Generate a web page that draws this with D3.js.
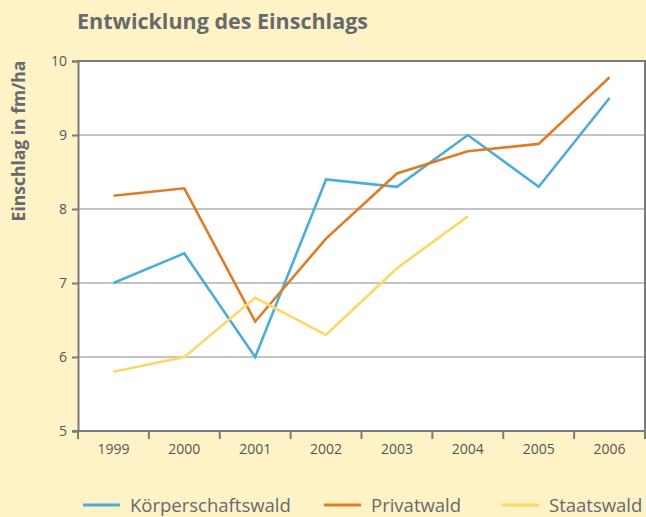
<!DOCTYPE html>
<html>
<head>
<meta charset="utf-8">
<script src="https://cdn.jsdelivr.net/npm/d3@7"></script>
<style>
  body { margin: 0; background: #fef2c7; }
  svg { display: block; font-family: "Open Sans", "Noto Sans", sans-serif; }
</style>
</head>
<body>
<div id="chart"></div>
<script>
const years = ["1999", "2000", "2001", "2002", "2003", "2004", "2005", "2006"];
const koerperschaftswald = [7.0, 7.4, 6.0, 8.4, 8.3, 9.0, 8.3, 9.5];
const privatwald = [8.18, 8.28, 6.48, 7.6, 8.48, 8.78, 8.88, 9.78];
const staatswald = [5.8, 6.0, 6.8, 6.3, 7.2, 7.9];
const yTicks = [5, 6, 7, 8, 9, 10];

const series = [
  { name: "Körperschaftswald", values: koerperschaftswald, color: "#4badd9" },
  { name: "Privatwald", values: privatwald, color: "#e07b28" },
  { name: "Staatswald", values: staatswald, color: "#fed866" }
];

const W = 646, H = 517;
var margin = { top: 61, right: 1, bottom: 86, left: 78 },
  width = W - margin.left - margin.right,
  height = H - margin.top - margin.bottom;

const root = d3.select("#chart").append("svg")
  .attr("width", W).attr("height", H);

root.append("rect").attr("width", W).attr("height", H).attr("fill", "#fef2c7");

root.append("text")
  .attr("x", 77).attr("y", 29)
  .attr("fill", "#666a6c")
  .attr("font-size", 21.5)
  .attr("font-weight", "bold")
  .text("Entwicklung des Einschlags");

root.append("text")
  .attr("transform", "translate(25," + (margin.top + 80) + ") rotate(-90)")
  .attr("text-anchor", "middle")
  .attr("fill", "#666a6c")
  .attr("font-size", 17.5)
  .attr("font-weight", "bold")
  .text("Einschlag in fm/ha");

const svg = root.append("g")
  .attr("transform", "translate(" + margin.left + "," + margin.top + ")");

var x = d3.scaleBand().domain(years).range([0, width]);
var y = d3.scaleLinear().domain([5, 10]).range([height, 0]);

svg.append("rect")
  .attr("width", width).attr("height", height)
  .attr("fill", "#ffffff");

// gridlines
svg.append("g")
  .selectAll("line")
  .data(yTicks.filter(d => d > 5 && d < 10))
  .join("line")
  .attr("x1", 0).attr("x2", width)
  .attr("y1", d => y(d)).attr("y2", d => y(d))
  .attr("stroke", "#c3c3c3")
  .attr("stroke-width", 2);

// frame top/right
svg.append("path")
  .attr("d", "M0," + y(10) + "H" + width + "V" + height)
  .attr("fill", "none")
  .attr("stroke", "#7b7b7b")
  .attr("stroke-width", 2);

// lines
var line = d3.line()
  .x((d, i) => x(years[i]) + x.bandwidth() / 2)
  .y(d => y(d));

svg.selectAll(".series")
  .data(series)
  .join("path")
  .attr("class", "series")
  .attr("d", d => line(d.values))
  .attr("fill", "none")
  .attr("stroke", d => d.color)
  .attr("stroke-width", 2.6);

// y axis
var yAxis = svg.append("g")
  .call(d3.axisLeft(y).tickValues(yTicks).tickSize(6).tickPadding(5).tickFormat(d3.format("d")));
yAxis.select(".domain").attr("stroke", "#7b7b7b").attr("stroke-width", 2);
yAxis.selectAll(".tick line").attr("stroke", "#7b7b7b").attr("stroke-width", 2);
yAxis.selectAll("text").attr("fill", "#555").attr("font-size", 14)
  .attr("font-family", "'Open Sans', 'Noto Sans', sans-serif");

// x axis: ticks at band boundaries
var xAxis = svg.append("g").attr("transform", "translate(0," + height + ")");
xAxis.append("line")
  .attr("x1", -6).attr("x2", width)
  .attr("stroke", "#7b7b7b").attr("stroke-width", 2);
xAxis.selectAll(".xtick")
  .data(years.concat(["end"]))
  .join("line")
  .attr("class", "xtick")
  .attr("x1", (d, i) => i * x.bandwidth()).attr("x2", (d, i) => i * x.bandwidth())
  .attr("y1", 0).attr("y2", 8)
  .attr("stroke", "#7b7b7b").attr("stroke-width", 2);
xAxis.selectAll(".xlabel")
  .data(years)
  .join("text")
  .attr("class", "xlabel")
  .attr("x", d => x(d) + x.bandwidth() / 2)
  .attr("y", 23)
  .attr("text-anchor", "middle")
  .attr("fill", "#555")
  .attr("font-size", 14)
  .text(d => d);

// legend
const legendX = [83, 324, 502];
const legend = root.append("g");
series.forEach((s, i) => {
  legend.append("line")
    .attr("x1", legendX[i]).attr("x2", legendX[i] + 37)
    .attr("y1", 505).attr("y2", 505)
    .attr("stroke", s.color).attr("stroke-width", 3);
  legend.append("text")
    .attr("x", legendX[i] + 47).attr("y", 512)
    .attr("fill", "#666a6c")
    .attr("font-size", 18.5)
    .text(s.name);
});
</script>
</body>
</html>
